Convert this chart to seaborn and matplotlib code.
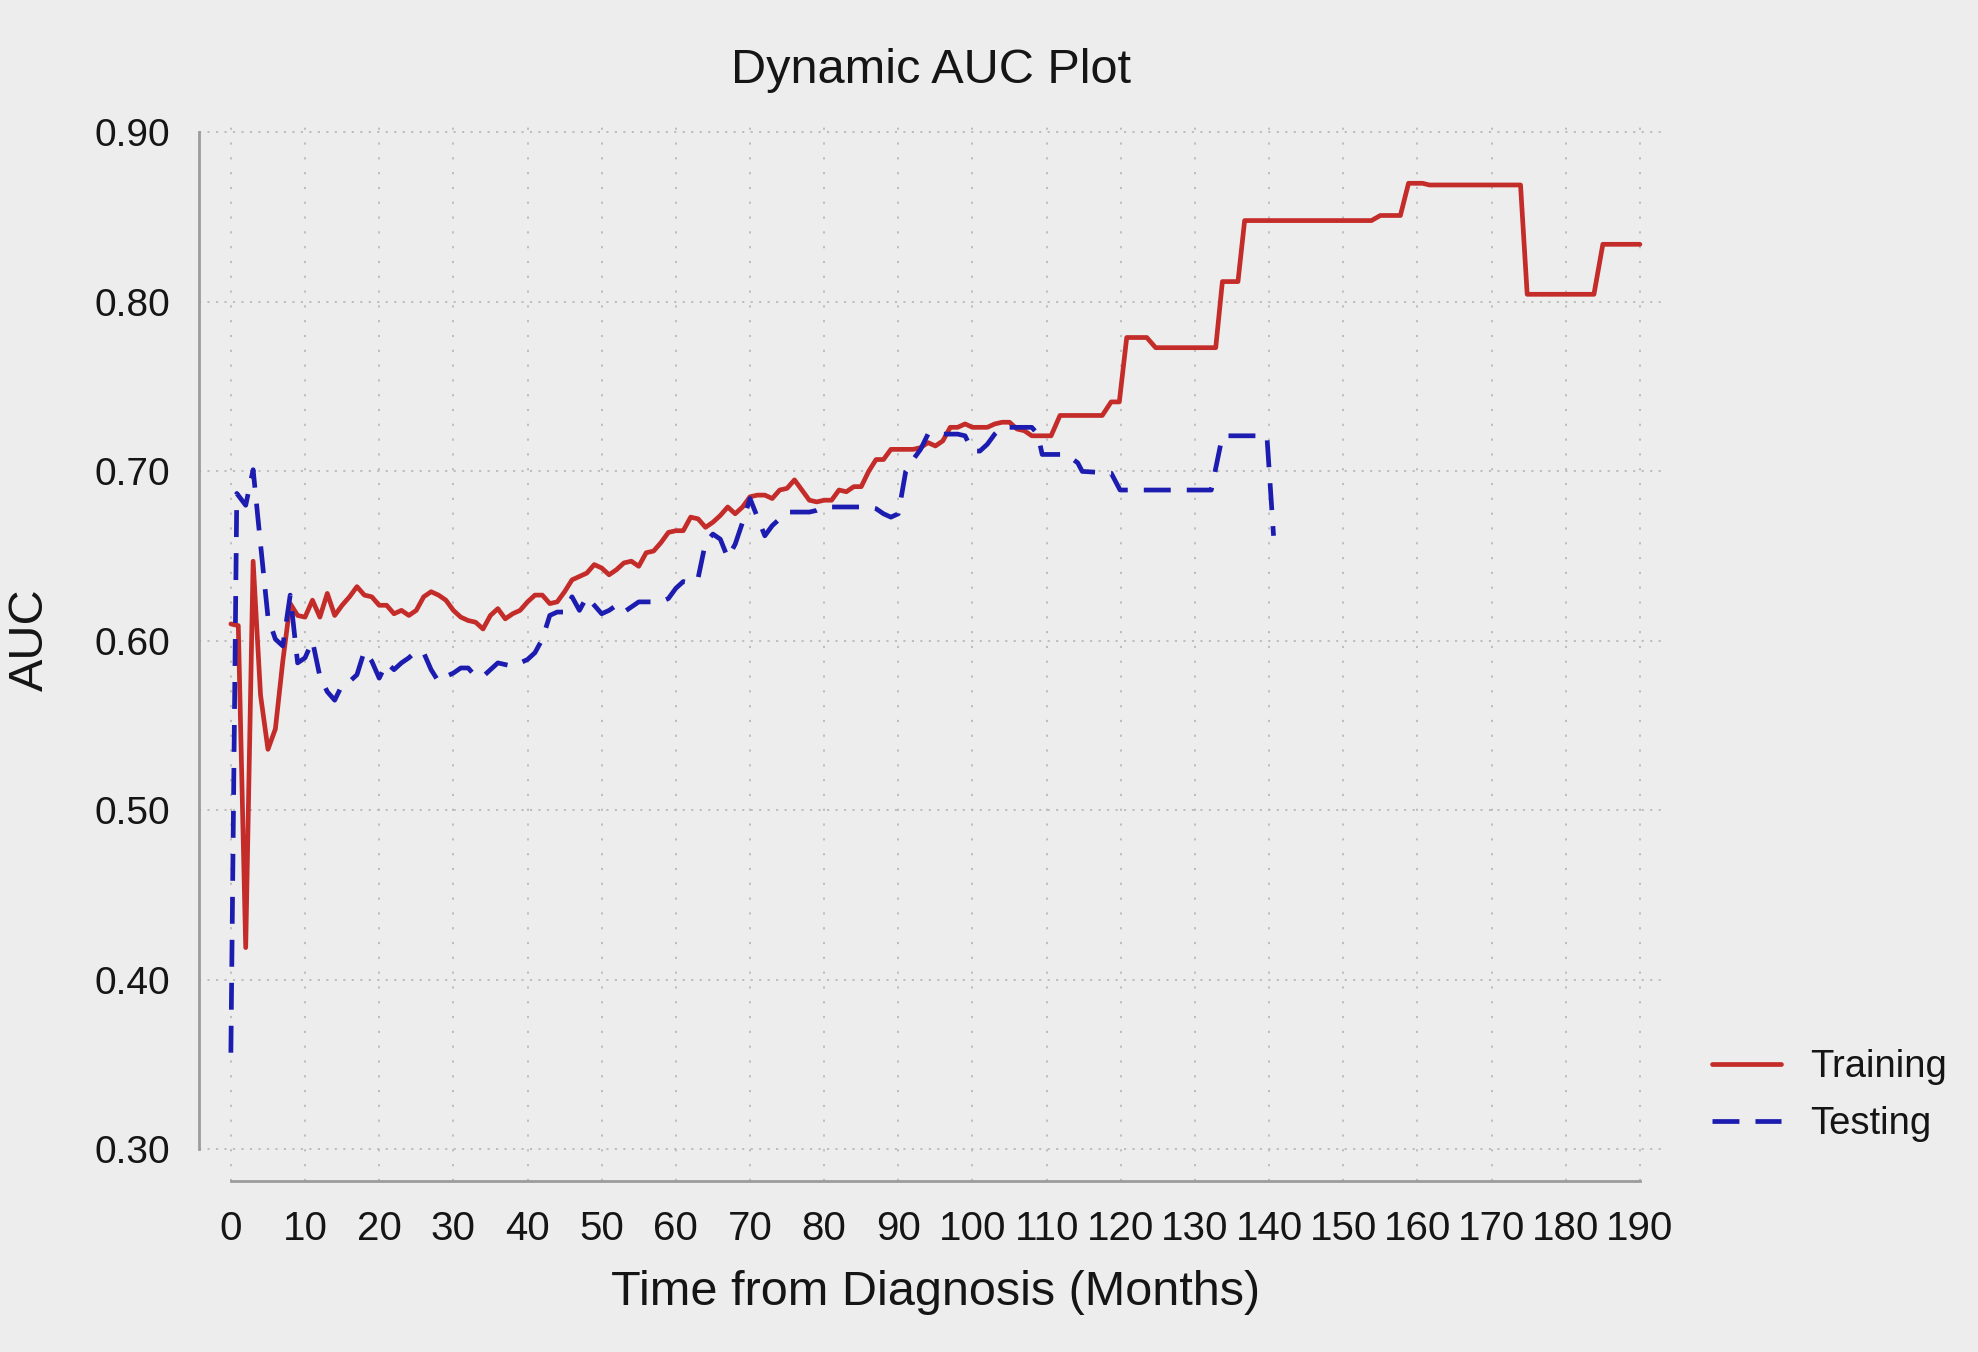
import pandas as pd
import seaborn as sns
import matplotlib.pyplot as plt

# Training curve: monthly points up to 109, then the step changes
train_month = list(range(0, 110)) + [
    110.6, 111.8, 117.5, 118.7, 119.8, 120.8, 123.5, 124.7, 132.8, 133.7,
    135.8, 136.7, 153.8, 155.0, 157.7, 158.8, 160.7, 161.6, 173.9, 174.8,
    183.8, 185.0, 190]
train_auc = [
    0.610, 0.609, 0.419, 0.647, 0.568, 0.536, 0.548, 0.588, 0.622, 0.615,
    0.614, 0.624, 0.614, 0.628, 0.615, 0.621, 0.626, 0.632, 0.627, 0.626,
    0.621, 0.621, 0.616, 0.618, 0.615, 0.618, 0.626, 0.629, 0.627, 0.624,
    0.618, 0.614, 0.612, 0.611, 0.607, 0.615, 0.619, 0.613, 0.616, 0.618,
    0.623, 0.627, 0.627, 0.622, 0.623, 0.629, 0.636, 0.638, 0.640, 0.645,
    0.643, 0.639, 0.642, 0.646, 0.647, 0.644, 0.652, 0.653, 0.658, 0.664,
    0.665, 0.665, 0.673, 0.672, 0.667, 0.670, 0.674, 0.679, 0.675, 0.679,
    0.685, 0.686, 0.686, 0.684, 0.689, 0.690, 0.695, 0.689, 0.683, 0.682,
    0.683, 0.683, 0.689, 0.688, 0.691, 0.691, 0.700, 0.707, 0.707, 0.713,
    0.713, 0.713, 0.713, 0.714, 0.717, 0.715, 0.718, 0.726, 0.726, 0.728,
    0.726, 0.726, 0.726, 0.728, 0.729, 0.729, 0.725, 0.724, 0.721, 0.721,
    0.721, 0.733, 0.733, 0.741, 0.741, 0.779, 0.779, 0.773, 0.773, 0.812,
    0.812, 0.848, 0.848, 0.851, 0.851, 0.870, 0.870, 0.869, 0.869, 0.8045,
    0.8045, 0.834, 0.834]

# Testing curve
test_month = [0, 0.8] + list(range(2, 109)) + [
    108.8, 109.4, 112.7, 114.2, 114.8, 118.7, 119.9, 132.2, 133.7, 139.7, 140.6]
test_auc = [
    0.357, 0.687,
    0.680, 0.701, 0.657, 0.614, 0.601, 0.597, 0.627, 0.587,
    0.590, 0.600, 0.579, 0.570, 0.565, 0.574, 0.576, 0.580, 0.594, 0.588,
    0.578, 0.587, 0.583, 0.587, 0.590, 0.594, 0.593, 0.583, 0.576, 0.579,
    0.581, 0.584, 0.584, 0.579, 0.579, 0.583, 0.587, 0.586, 0.585, 0.587,
    0.589, 0.593, 0.601, 0.615, 0.617, 0.617, 0.626, 0.618, 0.626, 0.621,
    0.616, 0.618, 0.621, 0.617, 0.620, 0.623, 0.623, 0.623, 0.623, 0.625,
    0.631, 0.635, 0.634, 0.637, 0.658, 0.663, 0.660, 0.649, 0.657, 0.670,
    0.684, 0.673, 0.662, 0.668, 0.672, 0.676, 0.676, 0.676, 0.676, 0.677,
    0.679, 0.679, 0.679, 0.679, 0.679, 0.679, 0.679, 0.678, 0.675, 0.673,
    0.675, 0.700, 0.707, 0.713, 0.722, 0.722, 0.722, 0.722, 0.722, 0.721,
    0.712, 0.712, 0.716, 0.722, 0.726, 0.726, 0.726, 0.726, 0.726,
    0.722, 0.710, 0.710, 0.705, 0.700, 0.699, 0.689, 0.689, 0.721, 0.721, 0.662]

series_names = ['Training', 'Testing']
series_colors = ['#C42C2A', '#1C1CB0']
x_ticks = list(range(0, 200, 10))
y_ticks = [0.30, 0.40, 0.50, 0.60, 0.70, 0.80, 0.90]

df = pd.concat([
    pd.DataFrame({'month': train_month, 'auc': train_auc, 'set': 'Training'}),
    pd.DataFrame({'month': test_month, 'auc': test_auc, 'set': 'Testing'}),
], ignore_index=True)

sns.set_style('white')
plt.rcParams['font.family'] = ['Liberation Sans', 'DejaVu Sans']

bg = '#EDEDED'
txt = '#151515'
axis_grey = '#9C9C9C'

fig = plt.figure(figsize=(19.78, 13.52), dpi=100, facecolor=bg)
ax = fig.add_axes([0.1006, 0.1265, 0.7401, 0.7803])
ax.set_facecolor(bg)

sns.lineplot(
    data=df, x='month', y='auc'
    , hue='set', style='set'
    , hue_order=series_names, style_order=series_names
    , palette=dict(zip(series_names, series_colors))
    , dashes={'Training': '', 'Testing': (5.7, 3.4)}
    , linewidth=3.4, estimator=None, sort=False, legend=False, ax=ax
)

ax.set_xlim(-4.3, 193.1)
ax.set_ylim(0.2813, 0.9038)
ax.set_xticks(x_ticks)
ax.set_yticks(y_ticks)
ax.set_yticklabels([f'{v:.2f}' for v in y_ticks])

# dotted grid, R style
ax.set_axisbelow(True)
ax.xaxis.grid(True, color='#BABABA', linewidth=1.3, linestyle=(0, (1.2, 7)))
ax.yaxis.grid(True, color='#BABABA', linewidth=1.3, linestyle=(0, (1.2, 3.5)))

for side in ['top', 'right']:
    ax.spines[side].set_visible(False)
for side in ['left', 'bottom']:
    ax.spines[side].set_color(axis_grey)
    ax.spines[side].set_linewidth(2.0)
ax.spines['left'].set_bounds(0.30, 0.90)
ax.spines['bottom'].set_bounds(0, 190)

ax.tick_params(axis='y', length=11.5, width=1.2, color=axis_grey, pad=9.4,
               labelsize=28, labelcolor=txt)
ax.tick_params(axis='x', length=12.6, width=1.2, color=axis_grey, pad=8,
               labelsize=29, labelcolor=txt)

ax.set_xlabel('Time from Diagnosis (Months)', fontsize=35, color=txt, va='center')
ax.xaxis.set_label_coords(0.503, -0.1055)
ax.set_ylabel('AUC', fontsize=35, color=txt, va='center')
ax.yaxis.set_label_coords(-0.1154, 0.5128)
ax.set_title('Dynamic AUC Plot', fontsize=35, color=txt, y=1.045, va='center')

fig.legend(
    ax.get_lines()[:2], series_names
    , loc='center left', bbox_to_anchor=(0.8655, 0.1895)
    , frameon=False, fontsize=27.5, labelcolor=txt
    , handlelength=1.81, handletextpad=0.75, labelspacing=0.56
    , borderpad=0, borderaxespad=0
)

fig.savefig('out.png', dpi=100, facecolor=bg)
